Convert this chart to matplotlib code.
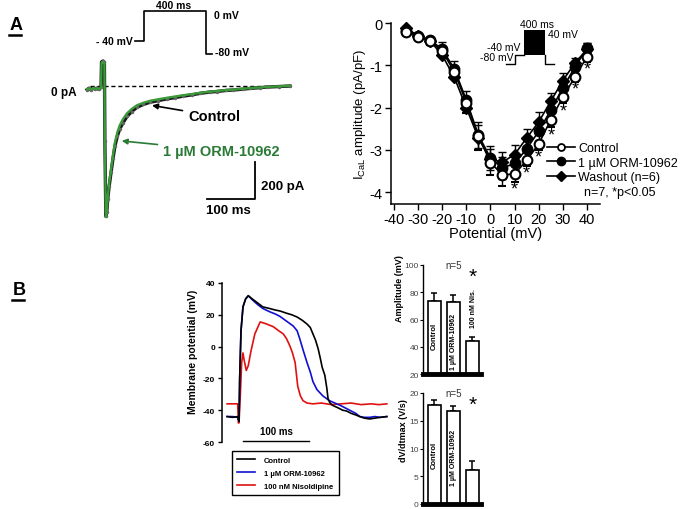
import matplotlib
matplotlib.use("Agg")
import matplotlib.pyplot as plt
from matplotlib.lines import Line2D

plt.rcParams['font.family'] = ['Liberation Sans', 'DejaVu Sans']
plt.rcParams['axes.unicode_minus'] = False
plt.rcParams['mathtext.default'] = 'regular'

# ---------------- data ----------------
# A, left: I_CaL traces (time in ms, current in pA)
trace_t = [-10, -6, -2, 2, 6, 10, 14, 19, 20, 23, 26, 27, 29, 31, 33, 36, 40, 44, 48, 53, 58,
           65, 73, 83, 94, 107, 121, 138, 156, 173, 190, 208, 225, 245, 260, 280, 294, 315,
           330, 350, 365, 390, 412]
ctrl_I = [-20, -12, -22, -10, -16, -12, -18, -8, 130, 135, 128, -300, -705, -680, -610, -540,
          -464, -390, -324, -270, -232, -198, -165, -138, -115, -100, -88, -79, -70, -63, -55,
          -48, -40, -33, -30, -24, -22, -17, -13, -9, -6, -3, 0]
orm_I = [-18, -14, -20, -12, -14, -14, -16, -10, 125, 130, 120, -320, -708, -675, -600, -525,
         -450, -372, -305, -250, -212, -178, -148, -124, -104, -91, -80, -72, -64, -57, -50,
         -44, -37, -31, -27, -22, -20, -15, -11, -8, -5, -2, 1]

# A, right: I-V relation
volts = [-35, -30, -25, -20, -15, -10, -5, 0, 5, 10, 15, 20, 25, 30, 35, 40]
iv_ctrl = [-0.22, -0.32, -0.43, -0.66, -1.15, -1.88, -2.67, -3.30, -3.59, -3.57, -3.25, -2.86,
           -2.29, -1.75, -1.28, -0.80]
iv_orm = [-0.20, -0.30, -0.40, -0.62, -1.08, -1.82, -2.65, -3.19, -3.43, -3.32, -2.98, -2.56,
          -2.06, -1.54, -1.04, -0.60]
iv_wash = [-0.12, -0.30, -0.42, -0.76, -1.28, -2.00, -2.72, -3.22, -3.29, -3.11, -2.72, -2.34,
           -1.85, -1.36, -0.95, -0.62]
err_ctrl = [0.05, 0.05, 0.08, 0.12, 0.15, 0.25, 0.33, 0.30, 0.26, 0.18, 0.12, 0.15, 0.18, 0.15,
            0.12, 0.12]
err_orm = [0.05, 0.05, 0.08, 0.16, 0.18, 0.22, 0.30, 0.28, 0.25, 0.22, 0.20, 0.20, 0.20, 0.18,
           0.15, 0.12]
err_wash = [0.05, 0.05, 0.08, 0.15, 0.20, 0.25, 0.30, 0.25, 0.24, 0.23, 0.21, 0.24, 0.20, 0.18,
            0.12, 0.15]
sig_volts = [10, 15, 20, 25, 30, 35, 40]

# B: action potentials (time in ms, membrane potential in mV)
ap_t_ctrl = [-18, -10, -2, 0, 1, 3, 6, 10, 14, 20, 28, 36, 46, 55, 62, 72, 80, 88, 96, 103, 108,
             112, 116, 120, 123, 126, 130, 133, 135, 138, 142, 150, 157, 163, 170, 177, 183, 190,
             198, 206, 214, 224]
ap_v_ctrl = [-44, -44.5, -44, -47, -20, 10, 25, 30, 32, 30, 27.5, 25, 24, 23, 22.4, 21, 20, 18.6,
             16.5, 14.2, 12, 8, 4, -1.5, -7, -13, -18, -26, -33, -35.5, -37, -38.5, -40, -40.5,
             -42, -43, -44, -45, -45.5, -45, -44.5, -44]
ap_t_orm = [-18, -10, -2, 0, 1, 3, 6, 10, 14, 20, 28, 36, 46, 55, 62, 72, 82, 88, 92, 97, 103,
            108, 112, 118, 127, 137, 148, 156, 163, 170, 177, 183, 190, 198, 206, 214, 224]
ap_v_orm = [-44, -44, -44.5, -47, -20, 10, 25, 30, 32, 29.5, 26.5, 24, 22, 20.5, 19, 16, 13, 10,
            5, -2, -10, -16, -22, -27, -31, -34, -36, -37.5, -39, -40.5, -42, -44, -44.5, -44.5,
            -44, -44.5, -44]
ap_t_nis = [-18, -10, -2, -1, 0, 2, 4, 6, 8, 11, 14, 18, 24, 32, 40, 46, 52, 60, 67, 72, 77, 81,
            85, 89, 93, 97, 103, 112, 125, 140, 155, 170, 185, 200, 212, 224]
ap_v_nis = [-36, -36, -36, -48, -48, -30, -10, -4, -9, -15, -12, -3, 8, 15.5, 14.5, 13.5, 12.5,
            10, 8, 5, 0.5, -4, -10, -25, -31, -34, -35.5, -36, -35.5, -36.5, -36, -35.5, -36.5,
            -36, -36.5, -36]

# B: bar charts
bar_labels = ['Control', '1 µM ORM-10962', '100 nM Nis.']
amp_mean = [73.8, 73.0, 44.4]
amp_err = [5.6, 5.2, 2.6]
dvdt_mean = [17.8, 16.8, 6.2]
dvdt_err = [0.9, 0.9, 1.6]

# ---------------- layout helpers ----------------
W, H = 682, 510
fig = plt.figure(figsize=(W / 100, H / 100), dpi=100)


def box(l, t, r, b):
    return [l / W, 1 - b / H, (r - l) / W, (b - t) / H]


def fx(x):
    return x / W


def fy(y):
    return 1 - y / H


# panel letters
for letter, x, y in [('A', 10, 26), ('B', 13, 291)]:
    fig.text(fx(x), fy(y), letter, fontsize=13, fontweight='bold', ha='left', va='center')
    fig.add_artist(Line2D([fx(x - 1), fx(x + 11)], [fy(y + 10), fy(y + 10)], color='black',
                          lw=1.8))

# ---------------- A left: current traces ----------------
ax1 = fig.add_axes(box(40, 0, 300, 230))
ax1.axis('off')
ax1.set_xlim(-108, 433)
ax1.set_ylim(-773, 470)
ax1.plot([-5, 412], [0, 0], ls=(0, (3, 2)), color='black', lw=1)
ax1.plot(trace_t, ctrl_I, color='#1a1a1a', lw=2.4, marker='.', ms=3, mfc='#666666',
         mec='#666666')
ax1.plot(trace_t, orm_I, color='#3a9a3a', lw=1.7)
ax1.text(-31, -30, '0 pA', fontsize=8.5, fontweight='bold', ha='right', va='center')

# voltage protocol
ax1.plot([90, 108, 108, 237, 237, 250], [243, 243, 405, 405, 173, 173], color='black', lw=1.2)
ax1.text(169, 438, '400 ms', fontsize=7.5, fontweight='bold', ha='center', va='center')
ax1.text(255, 384, '0 mV', fontsize=7.5, fontweight='bold', ha='left', va='center')
ax1.text(85, 243, '- 40 mV', fontsize=7.5, fontweight='bold', ha='right', va='center')
ax1.text(256, 184, '-80 mV', fontsize=7.5, fontweight='bold', ha='left', va='center')

# annotations
ax1.annotate('Control', xy=(125, -105), xytext=(200, -162), fontsize=10.5, fontweight='bold',
             ha='left', va='center',
             arrowprops=dict(arrowstyle='-|>', color='black', lw=1.2, mutation_scale=8,
                             shrinkA=2, shrinkB=0))
ax1.annotate('1 µM ORM-10962', xy=(62, -297), xytext=(148, -351), fontsize=10.5,
             fontweight='bold', color='#2b7a36', ha='left', va='center',
             arrowprops=dict(arrowstyle='-|>', color='#2b7a36', lw=1.2, mutation_scale=8,
                             shrinkA=2, shrinkB=0))

# scale bar
ax1.plot([240, 340, 340], [-611, -611, -411], color='black', lw=1.3)
ax1.text(351, -540, '200 pA', fontsize=9.5, fontweight='bold', ha='left', va='center')
ax1.text(285, -672, '100 ms', fontsize=9.5, fontweight='bold', ha='center', va='center')

# ---------------- A right: I-V ----------------
ax2 = fig.add_axes(box(391, 24, 600, 205))
ax2.set_xlim(-41.2, 45.4)
ax2.set_ylim(-4.28, 0)
for s in ['top', 'right']:
    ax2.spines[s].set_visible(False)
ax2.spines['left'].set_linewidth(1.1)
ax2.spines['bottom'].set_linewidth(1.1)
ax2.set_xticks(range(-40, 41, 10))
ax2.set_yticks([0, -1, -2, -3, -4])
ax2.tick_params(direction='out', length=4, width=1, labelsize=10.5, pad=2)

zeros = [0] * len(volts)
ax2.errorbar(volts, iv_wash, yerr=[zeros, err_wash], color='black', lw=1.2, marker='D', ms=6,
             mfc='black', mec='black', capsize=3, elinewidth=1, capthick=1, clip_on=False,
             zorder=3)
ax2.errorbar(volts, iv_orm, yerr=err_orm, color='black', lw=1.2, marker='o', ms=7.5,
             mfc='black', mec='black', capsize=3, elinewidth=1, capthick=1, clip_on=False,
             zorder=4)
ax2.errorbar(volts, iv_ctrl, yerr=[err_ctrl, zeros], color='black', lw=1.2, marker='o', ms=7,
             mfc='white', mec='black', mew=1.5, capsize=3, elinewidth=1, capthick=1,
             clip_on=False, zorder=5)
for v in sig_volts:
    i = volts.index(v)
    ax2.text(v, iv_ctrl[i] - err_ctrl[i] - 0.17, '*', fontsize=13, ha='center', va='center')

ax2.set_xlabel('Potential (mV)', fontsize=10.5, labelpad=0)
ax2.set_ylabel(r'I$_{CaL}$ amplitude (pA/pF)', fontsize=9.5, labelpad=1)

h_ctrl = Line2D([], [], color='black', lw=1.2, marker='o', ms=5, mfc='white', mew=1.3)
h_orm = Line2D([], [], color='black', lw=1.2, marker='o', ms=6, mfc='black')
h_wash = Line2D([], [], color='black', lw=1.2, marker='D', ms=5, mfc='black')
ax2.legend([h_ctrl, h_orm, h_wash], ['Control', '1 µM ORM-10962', 'Washout (n=6)'],
           loc='upper left', bbox_to_anchor=(0.745, 0.342), frameon=False, fontsize=9,
           handlelength=2.3, handletextpad=0.2, borderaxespad=0, borderpad=0,
           labelspacing=0.2)
ax2.text(0.923, 0.065, 'n=7, *p<0.05', transform=ax2.transAxes, fontsize=9, ha='left',
         va='center')

# inset protocol
ax2.plot([6.5, 10.2, 10.2, 13.9], [-0.97, -0.97, -0.76, -0.76], color='black', lw=1)
ax2.fill_between([13.9, 22.7], -0.76, -0.17, color='black', lw=0)
ax2.plot([22.7, 22.7, 26.4], [-0.76, -0.97, -0.97], color='black', lw=1)
ax2.text(19.3, -0.02, '400 ms', fontsize=7.5, ha='center', va='center')
ax2.text(23.8, -0.27, '40 mV', fontsize=7.5, ha='left', va='center')
ax2.text(12.5, -0.57, '-40 mV', fontsize=7.5, ha='right', va='center')
ax2.text(9.6, -0.81, '-80 mV', fontsize=7.5, ha='right', va='center')

# ---------------- B: action potentials ----------------
ax3 = fig.add_axes(box(222, 284, 390, 443))
ax3.set_xlim(-25.8, 228.8)
ax3.set_ylim(-60, 40)
for s in ['top', 'right', 'bottom']:
    ax3.spines[s].set_visible(False)
ax3.spines['left'].set_linewidth(1.1)
ax3.set_xticks([])
ax3.set_yticks([40, 20, 0, -20, -40, -60])
ax3.tick_params(axis='y', direction='out', length=3, width=1, labelsize=6, pad=2)
for lab in ax3.get_yticklabels():
    lab.set_fontweight('bold')
ax3.plot(ap_t_nis, ap_v_nis, color='#e01010', lw=1.2, label='100 nM Nisoldipine')
ax3.plot(ap_t_orm, ap_v_orm, color='#1010d0', lw=1.2, label='1 µM ORM-10962')
ax3.plot(ap_t_ctrl, ap_v_ctrl, color='black', lw=1.2, label='Control')
ax3.plot([6, 106], [-59.4, -59.4], color='black', lw=1, clip_on=False)
ax3.text(56, -53, '100 ms', fontsize=7, fontweight='bold', ha='center', va='center')
fig.text(fx(193), fy(352), 'Membrane potential (mV)', rotation=90, fontsize=7.5,
         fontweight='bold', ha='center', va='center')

handles, labels = ax3.get_legend_handles_labels()
order = [2, 1, 0]
leg = fig.legend([handles[i] for i in order], [labels[i] for i in order], loc='upper left',
                 bbox_to_anchor=(fx(232), fy(452)), prop={'weight': 'bold', 'size': 5.5},
                 frameon=True, fancybox=False, edgecolor='black', framealpha=1,
                 handlelength=2.3, handletextpad=1.2, borderpad=0.7, labelspacing=0.75,
                 borderaxespad=0)
leg.get_frame().set_linewidth(1)

# ---------------- B: bar charts ----------------
xpos = [0, 1, 2]


def bar_panel(rect, means, errs, base, top, ticks, ylabel, ylab_y, ylab_x):
    ax = fig.add_axes(box(*rect))
    heights = [m - base for m in means]
    ax.bar(xpos, heights, bottom=base, width=0.68, color='white', edgecolor='black', lw=1.2,
           zorder=2)
    ax.errorbar(xpos, means, yerr=[[0] * 3, errs], fmt='none', ecolor='black', elinewidth=1.1,
                capsize=2.5, capthick=1.1, zorder=1)
    ax.set_xlim(-0.6, 2.45)
    ax.set_ylim(base, top)
    for s in ['top', 'right']:
        ax.spines[s].set_visible(False)
    ax.spines['bottom'].set_linewidth(3.5)
    ax.spines['left'].set_linewidth(1)
    ax.set_xticks([])
    ax.set_yticks(ticks)
    ax.tick_params(axis='y', direction='out', length=2, width=0.8, labelsize=6, pad=1,
                   labelcolor='#444444')
    fig.text(fx(ylab_x), fy(ylab_y), ylabel, rotation=90, fontsize=6.5, fontweight='bold',
             ha='center', va='center')
    ax.text(1, top, 'n=5', fontsize=7, ha='center', va='center', color='#333333')
    ax.text(2.0, top - (top - base) * 0.1, '*', fontsize=15, ha='center', va='center')
    return ax


ax4 = bar_panel((423, 266, 481, 375), amp_mean, amp_err, 20, 100, [20, 40, 60, 80, 100],
                'Amplitude (mV)', 289, 400)
ax4.text(0, 48, bar_labels[0], rotation=90, fontsize=5.5, fontweight='bold', ha='center',
         va='center')
ax4.text(1, 44, bar_labels[1], rotation=90, fontsize=5, fontweight='bold', ha='center',
         va='center')
ax4.text(2.05, 69, '100 nM Nis.', rotation=90, fontsize=5, fontweight='bold', ha='center',
         va='center')

ax5 = bar_panel((423, 394, 481, 505), dvdt_mean, dvdt_err, 0, 20, [0, 5, 10, 15, 20],
                'dV/dtmax (V/s)', 431, 404)
ax5.text(0, 9, bar_labels[0], rotation=90, fontsize=5.5, fontweight='bold', ha='center',
         va='center')
ax5.text(1, 8.5, bar_labels[1], rotation=90, fontsize=5, fontweight='bold', ha='center',
         va='center')

fig.savefig('out.png', dpi=100)
